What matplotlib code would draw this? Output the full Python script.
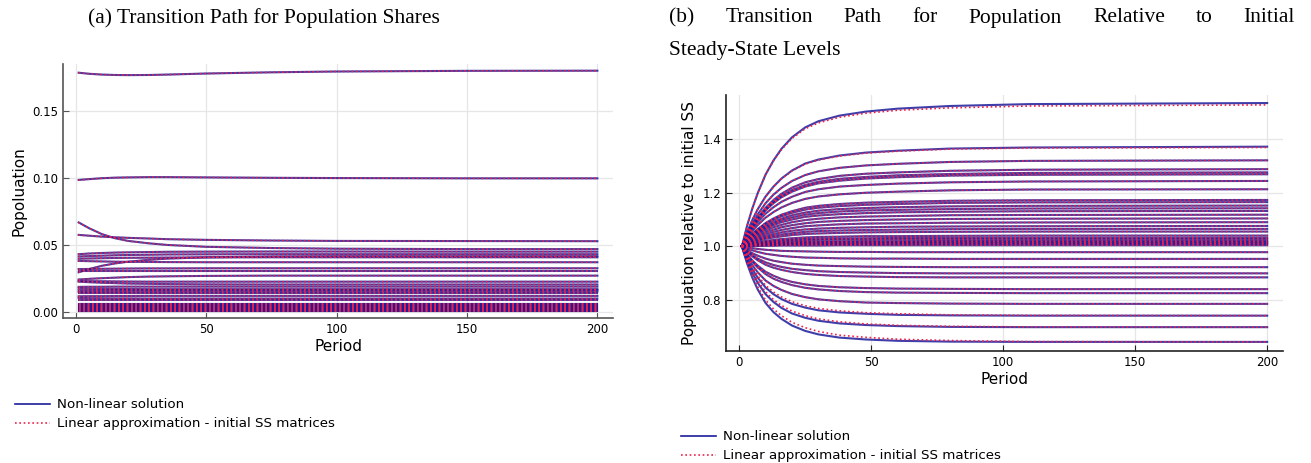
import numpy as np
import matplotlib
matplotlib.use('Agg')
import matplotlib.pyplot as plt
from matplotlib.lines import Line2D

# ---- data: panel (a) population shares ----
periods_a = [1, 5, 10, 15, 20, 28, 35, 50, 75, 100, 150, 200]
share_paths = [
    [0.1785, 0.1777, 0.1771, 0.1768, 0.1767, 0.1768, 0.1771, 0.1779, 0.1788, 0.1794, 0.1799, 0.1800],
    [0.0985, 0.0991, 0.0998, 0.1002, 0.1004, 0.1006, 0.1006, 0.1004, 0.1001, 0.0999, 0.0997, 0.0997],
    [0.0668, 0.0625, 0.0580, 0.0550, 0.0530, 0.0512, 0.0500, 0.0486, 0.0477, 0.0472, 0.0469, 0.0469],
    [0.0575, 0.0569, 0.0562, 0.0557, 0.0553, 0.0548, 0.0543, 0.0538, 0.0533, 0.0530, 0.0529, 0.0528],
    [0.0296, 0.0320, 0.0345, 0.0362, 0.0375, 0.0389, 0.0398, 0.0408, 0.0414, 0.0416, 0.0416, 0.0416],
    [0.0431, 0.0436, 0.0440, 0.0443, 0.0445, 0.0447, 0.0449, 0.0450, 0.0451, 0.0451, 0.0450, 0.0450],
    [0.0414, 0.0417, 0.0420, 0.0423, 0.0425, 0.0427, 0.0429, 0.0430, 0.0431, 0.0431, 0.0431, 0.0431],
    [0.0397, 0.0399, 0.0401, 0.0403, 0.0404, 0.0405, 0.0406, 0.0407, 0.0408, 0.0408, 0.0408, 0.0408],
    [0.0381, 0.0379, 0.0377, 0.0375, 0.0374, 0.0373, 0.0372, 0.0371, 0.0371, 0.0371, 0.0371, 0.0371],
    [0.0320, 0.0321, 0.0322, 0.0323, 0.0324, 0.0325, 0.0325, 0.0326, 0.0326, 0.0326, 0.0326, 0.0326],
    [0.0242, 0.0247, 0.0252, 0.0256, 0.0260, 0.0264, 0.0266, 0.0269, 0.0271, 0.0271, 0.0271, 0.0271],
    [0.0232, 0.0230, 0.0229, 0.0228, 0.0227, 0.0226, 0.0226, 0.0226, 0.0226, 0.0226, 0.0226, 0.0226],
    [0.0226, 0.0222, 0.0218, 0.0215, 0.0212, 0.0210, 0.0208, 0.0206, 0.0205, 0.0205, 0.0205, 0.0205],
    [0.0187, 0.0188, 0.0188, 0.0189, 0.0189, 0.0189, 0.0189, 0.0189, 0.0189, 0.0189, 0.0189, 0.0189],
    [0.0176, 0.0174, 0.0173, 0.0172, 0.0171, 0.0170, 0.0170, 0.0170, 0.0170, 0.0170, 0.0170, 0.0170],
    [0.0162, 0.0162, 0.0163, 0.0163, 0.0164, 0.0164, 0.0164, 0.0164, 0.0164, 0.0164, 0.0164, 0.0164],
    [0.0150, 0.0150, 0.0151, 0.0151, 0.0152, 0.0152, 0.0152, 0.0152, 0.0152, 0.0152, 0.0152, 0.0152],
    [0.0117, 0.0118, 0.0118, 0.0119, 0.0119, 0.0120, 0.0120, 0.0120, 0.0120, 0.0120, 0.0120, 0.0120],
    [0.0105, 0.0103, 0.0102, 0.0101, 0.0101, 0.0100, 0.0100, 0.0100, 0.0100, 0.0100, 0.0100, 0.0100],
]
# regions whose share stays flat over the whole horizon
flat_periods = [1, 200]
share_flat = [0.0309, 0.0139, 0.0089, 0.0062, 0.0056, 0.0050, 0.0045,
              0.0040, 0.0035, 0.0030, 0.0025, 0.0020, 0.0015, 0.0010, 0.0006]

# ---- data: panel (b) population relative to initial steady state ----
periods_b = [1, 3, 5, 7, 10, 13, 16, 20, 25, 30, 38, 48, 60, 80, 110, 200]
rel_paths = [
    [1.000, 1.077, 1.142, 1.198, 1.268, 1.321, 1.364, 1.407, 1.444, 1.467, 1.488, 1.503, 1.514, 1.524, 1.531, 1.535],
    [1.000, 1.053, 1.099, 1.138, 1.186, 1.223, 1.253, 1.283, 1.309, 1.324, 1.339, 1.350, 1.357, 1.365, 1.369, 1.372],
    [1.000, 1.046, 1.085, 1.119, 1.161, 1.193, 1.218, 1.244, 1.266, 1.280, 1.293, 1.302, 1.308, 1.315, 1.319, 1.321],
    [1.000, 1.041, 1.076, 1.107, 1.144, 1.173, 1.196, 1.219, 1.239, 1.251, 1.263, 1.271, 1.276, 1.282, 1.286, 1.288],
    [1.000, 1.039, 1.073, 1.102, 1.138, 1.166, 1.188, 1.210, 1.229, 1.241, 1.252, 1.259, 1.265, 1.270, 1.274, 1.276],
    [1.000, 1.038, 1.071, 1.100, 1.134, 1.161, 1.183, 1.204, 1.223, 1.235, 1.245, 1.253, 1.258, 1.264, 1.267, 1.269],
    [1.000, 1.035, 1.065, 1.090, 1.122, 1.146, 1.166, 1.185, 1.203, 1.213, 1.223, 1.229, 1.234, 1.239, 1.242, 1.244],
    [1.000, 1.030, 1.056, 1.079, 1.107, 1.128, 1.145, 1.162, 1.177, 1.186, 1.194, 1.200, 1.204, 1.209, 1.212, 1.213],
    [1.000, 1.025, 1.046, 1.064, 1.087, 1.104, 1.118, 1.131, 1.144, 1.151, 1.158, 1.163, 1.166, 1.170, 1.172, 1.173],
    [1.000, 1.024, 1.044, 1.061, 1.083, 1.099, 1.112, 1.125, 1.137, 1.144, 1.150, 1.155, 1.158, 1.162, 1.164, 1.165],
    [1.000, 1.022, 1.040, 1.056, 1.076, 1.091, 1.103, 1.116, 1.126, 1.133, 1.139, 1.143, 1.146, 1.149, 1.151, 1.152],
    [1.000, 1.020, 1.038, 1.053, 1.071, 1.085, 1.097, 1.108, 1.118, 1.124, 1.130, 1.134, 1.136, 1.139, 1.141, 1.142],
    [1.000, 1.019, 1.035, 1.049, 1.066, 1.079, 1.090, 1.100, 1.110, 1.115, 1.120, 1.124, 1.127, 1.129, 1.131, 1.132],
    [1.000, 1.017, 1.031, 1.044, 1.059, 1.071, 1.080, 1.090, 1.098, 1.103, 1.108, 1.111, 1.113, 1.116, 1.117, 1.118],
    [1.000, 1.015, 1.028, 1.038, 1.052, 1.062, 1.071, 1.079, 1.086, 1.091, 1.095, 1.098, 1.100, 1.102, 1.103, 1.104],
    [1.000, 1.013, 1.024, 1.033, 1.045, 1.054, 1.061, 1.068, 1.075, 1.078, 1.082, 1.085, 1.086, 1.088, 1.089, 1.090],
    [1.000, 1.011, 1.020, 1.028, 1.038, 1.046, 1.052, 1.058, 1.063, 1.066, 1.069, 1.071, 1.073, 1.074, 1.075, 1.076],
    [1.000, 1.009, 1.017, 1.024, 1.033, 1.039, 1.044, 1.049, 1.054, 1.057, 1.059, 1.061, 1.062, 1.064, 1.065, 1.065],
    [1.000, 1.008, 1.015, 1.020, 1.028, 1.033, 1.037, 1.042, 1.046, 1.048, 1.050, 1.052, 1.053, 1.054, 1.055, 1.055],
    [1.000, 1.006, 1.011, 1.015, 1.020, 1.024, 1.027, 1.030, 1.033, 1.035, 1.036, 1.038, 1.038, 1.039, 1.040, 1.040],
    [1.000, 1.005, 1.008, 1.012, 1.016, 1.019, 1.022, 1.024, 1.027, 1.028, 1.029, 1.030, 1.031, 1.031, 1.032, 1.032],
    [1.000, 1.004, 1.007, 1.010, 1.014, 1.016, 1.018, 1.021, 1.022, 1.024, 1.025, 1.025, 1.026, 1.026, 1.027, 1.027],
    [1.000, 1.003, 1.005, 1.007, 1.010, 1.012, 1.014, 1.015, 1.017, 1.017, 1.018, 1.019, 1.019, 1.020, 1.020, 1.020],
    [1.000, 1.002, 1.005, 1.006, 1.009, 1.010, 1.012, 1.013, 1.014, 1.015, 1.016, 1.016, 1.016, 1.017, 1.017, 1.017],
    [1.000, 1.002, 1.003, 1.004, 1.006, 1.007, 1.008, 1.009, 1.010, 1.010, 1.011, 1.011, 1.012, 1.012, 1.012, 1.012],
    [1.000, 1.001, 1.002, 1.003, 1.004, 1.005, 1.006, 1.007, 1.007, 1.008, 1.008, 1.008, 1.009, 1.009, 1.009, 1.009],
    [1.000, 1.001, 1.001, 1.001, 1.002, 1.002, 1.003, 1.003, 1.003, 1.003, 1.004, 1.004, 1.004, 1.004, 1.004, 1.004],
    [1.000, 0.996, 0.993, 0.990, 0.987, 0.985, 0.983, 0.982, 0.981, 0.980, 0.979, 0.979, 0.978, 0.978, 0.978, 0.978],
    [1.000, 0.991, 0.985, 0.979, 0.972, 0.968, 0.964, 0.961, 0.958, 0.957, 0.955, 0.954, 0.954, 0.953, 0.953, 0.953],
    [1.000, 0.986, 0.974, 0.965, 0.954, 0.946, 0.941, 0.935, 0.931, 0.928, 0.926, 0.924, 0.923, 0.922, 0.922, 0.922],
    [1.000, 0.982, 0.967, 0.954, 0.940, 0.930, 0.923, 0.916, 0.911, 0.907, 0.904, 0.902, 0.900, 0.899, 0.899, 0.899],
    [1.000, 0.979, 0.962, 0.948, 0.931, 0.920, 0.912, 0.904, 0.897, 0.893, 0.889, 0.887, 0.885, 0.884, 0.884, 0.884],
    [1.000, 0.971, 0.947, 0.928, 0.905, 0.890, 0.878, 0.867, 0.858, 0.852, 0.847, 0.844, 0.842, 0.841, 0.840, 0.840],
    [1.000, 0.968, 0.942, 0.921, 0.896, 0.879, 0.867, 0.855, 0.845, 0.839, 0.833, 0.829, 0.827, 0.826, 0.825, 0.825],
    [1.000, 0.961, 0.929, 0.903, 0.872, 0.852, 0.837, 0.822, 0.810, 0.802, 0.795, 0.790, 0.788, 0.786, 0.785, 0.785],
    [1.000, 0.953, 0.914, 0.883, 0.846, 0.821, 0.803, 0.785, 0.771, 0.761, 0.753, 0.748, 0.744, 0.742, 0.741, 0.741],
    [1.000, 0.945, 0.900, 0.864, 0.821, 0.792, 0.770, 0.749, 0.733, 0.722, 0.712, 0.706, 0.702, 0.699, 0.698, 0.698],
    [1.000, 0.935, 0.882, 0.839, 0.788, 0.754, 0.729, 0.704, 0.684, 0.671, 0.659, 0.652, 0.647, 0.644, 0.643, 0.643],
]
# linear approximation: same as non-linear except where it visibly departs
rel_lin_paths = [list(r) for r in rel_paths]
rel_lin_paths[0] = [1.000, 1.077, 1.142, 1.198, 1.267, 1.319, 1.361, 1.403, 1.439, 1.461, 1.482, 1.497, 1.508, 1.517, 1.524, 1.528]
rel_lin_paths[1] = [1.000, 1.053, 1.099, 1.138, 1.185, 1.222, 1.252, 1.281, 1.307, 1.322, 1.337, 1.348, 1.355, 1.363, 1.367, 1.369]
rel_lin_paths[35] = [1.000, 0.957, 0.921, 0.890, 0.854, 0.829, 0.811, 0.793, 0.778, 0.768, 0.759, 0.752, 0.748, 0.744, 0.742, 0.741]
rel_lin_paths[36] = [1.000, 0.950, 0.907, 0.872, 0.830, 0.801, 0.779, 0.758, 0.741, 0.729, 0.718, 0.710, 0.705, 0.701, 0.699, 0.698]
rel_lin_paths[37] = [1.000, 0.941, 0.890, 0.849, 0.799, 0.766, 0.741, 0.716, 0.696, 0.682, 0.668, 0.660, 0.653, 0.648, 0.644, 0.643]

labels = ['Non-linear solution', 'Linear approximation - initial SS matrices']

BLUE = '#1c1c9c'
RED = '#f0204a'
DOTS = (0, (1, 1.6))
W, H = 1311, 463

plt.rcParams['font.family'] = 'DejaVu Sans'
fig = plt.figure(figsize=(W / 100, H / 100), dpi=100)

def px_box(x0, y0, x1, y1):
    # pixel box (top-left origin) -> figure fraction
    return [x0 / W, 1 - y1 / H, (x1 - x0) / W, (y1 - y0) / H]

def style_axes(ax, spine_col):
    for s in ['top', 'right']:
        ax.spines[s].set_visible(False)
    for s in ['left', 'bottom']:
        ax.spines[s].set_color(spine_col)
        ax.spines[s].set_linewidth(1.2)
    ax.grid(True, color='#e6e6e6', lw=0.9)
    ax.set_axisbelow(True)
    ax.tick_params(direction='in', length=4, width=0.8, colors=spine_col,
                   labelcolor='black', labelsize=8.5)

ax1 = fig.add_axes(px_box(63, 64, 613, 318))
for row in share_paths:
    ax1.plot(periods_a, row, color=BLUE, lw=1.5, alpha=0.85)
for v in share_flat:
    ax1.plot(flat_periods, [v, v], color=BLUE, lw=1.5, alpha=0.85)
for row in share_paths:
    ax1.plot(periods_a, row, color=RED, lw=1.2, ls=DOTS)
for v in share_flat:
    ax1.plot(flat_periods, [v, v], color=RED, lw=1.2, ls=DOTS)
ax1.set_xlim(-5, 206)
ax1.set_ylim(-0.0045, 0.185)
ax1.set_xticks([0, 50, 100, 150, 200])
ax1.set_yticks([0.0, 0.05, 0.10, 0.15])
ax1.set_yticklabels(['0.00', '0.05', '0.10', '0.15'])
style_axes(ax1, '#555555')
ax1.set_xlabel('Period', fontsize=11, labelpad=2)
ax1.set_ylabel('Popoluation', fontsize=11, labelpad=4)

ax2 = fig.add_axes(px_box(726, 95, 1283, 351))
for row in rel_paths:
    ax2.plot(periods_b, row, color=BLUE, lw=1.5, alpha=0.85)
for row in rel_lin_paths:
    ax2.plot(periods_b, row, color=RED, lw=1.2, ls=DOTS)
ax2.set_xlim(-5, 206)
ax2.set_ylim(0.609, 1.565)
ax2.set_xticks([0, 50, 100, 150, 200])
ax2.set_yticks([0.8, 1.0, 1.2, 1.4])
ax2.set_yticklabels(['0.8', '1.0', '1.2', '1.4'])
style_axes(ax2, '#222222')
ax2.set_xlabel('Period', fontsize=11, labelpad=2)
ax2.set_ylabel('Popoluation relative to initial SS', fontsize=11, labelpad=4)

# legends below each panel
handles = [Line2D([], [], color=BLUE, lw=1.2),
           Line2D([], [], color=RED, lw=1.2, ls=DOTS)]
leg_kw = dict(loc='upper left', frameon=False, fontsize=9.6, handlelength=2.6,
              handletextpad=0.5, labelspacing=0.45, borderaxespad=0)
fig.legend(handles, labels, bbox_to_anchor=(10 / W, 1 - 393 / H), **leg_kw)
fig.legend(handles, labels, bbox_to_anchor=(676 / W, 1 - 425 / H), **leg_kw)

# titles (serif, like the paper captions)
tfont = dict(family='Liberation Serif', fontsize=15.5)
fig.text(264 / W, 1 - 18 / H, '(a) Transition Path for Population Shares',
         ha='center', va='center', **tfont)

# justified first line of caption (b)
words = ['(b)', 'Transition', 'Path', 'for', 'Population', 'Relative', 'to', 'Initial']
x_left, x_right = 669, 1295
renderer = fig.canvas.get_renderer()
items = [fig.text(0, 1 - 18 / H, w, ha='left', va='center', **tfont) for w in words]
widths = [t.get_window_extent(renderer).width for t in items]
gap = (x_right - x_left - sum(widths)) / (len(words) - 1)
x = x_left
for t, w in zip(items, widths):
    t.set_x(x / W)
    x += w + gap
fig.text(x_left / W, 1 - 50 / H, 'Steady-State Levels', ha='left', va='center', **tfont)

fig.savefig('out.png', dpi=100)
